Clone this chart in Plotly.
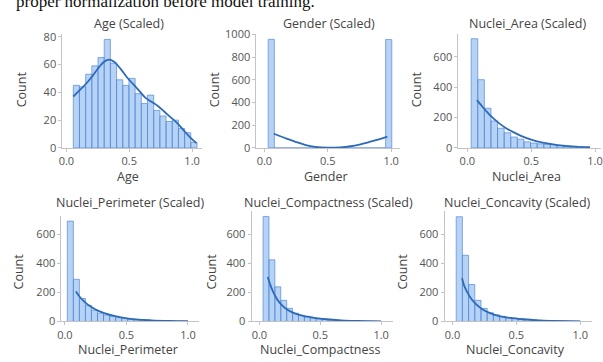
import numpy as np
import plotly.graph_objects as go

W, H = 603, 362

# ---------------- data ----------------
age_counts = [45, 44, 53, 59, 65, 78, 61, 49, 45, 50, 39, 32, 38, 27, 23, 19, 20, 14, 11, 4]
age_bins = (0.055, 1.039)
age_kde_x = [0.055, 0.10, 0.16, 0.21, 0.26, 0.30, 0.34, 0.38, 0.43, 0.48, 0.53, 0.58, 0.63, 0.68,
             0.73, 0.78, 0.83, 0.88, 0.93, 0.98, 1.035]
age_kde_y = [37, 41, 46.5, 52, 58, 62, 63.5, 62, 57, 51, 46, 41, 36, 33, 30, 26, 22, 18, 13, 8, 3.5]

gender_counts = [957] + [0] * 18 + [955]
gender_bins = (0.03, 1.005)
gender_kde_x = [0.075, 0.12, 0.18, 0.25, 0.32, 0.40, 0.50, 0.60, 0.68, 0.75, 0.82, 0.88, 0.93, 0.97]
gender_kde_y = [125, 105, 80, 52, 28, 10, 2, 5, 15, 30, 50, 68, 85, 100]

area_counts = [720, 450, 262, 178, 130, 100, 72, 58, 40, 32, 27, 23, 22, 16, 12, 8, 5, 3]
area_bins = (0.03, 0.96)
area_kde_x = [0.075, 0.12, 0.16, 0.20, 0.25, 0.30, 0.36, 0.42, 0.50, 0.58, 0.66, 0.75, 0.85, 0.96]
area_kde_y = [315, 270, 232, 198, 162, 132, 104, 80, 55, 37, 25, 15, 9, 5]

perim_counts = [690, 290, 158, 110, 78, 57, 45, 35, 26, 20, 15, 11, 9, 7, 5, 4, 3, 2, 2, 1]
perim_bins = (0.02, 1.0)
perim_kde_x = [0.09, 0.12, 0.16, 0.20, 0.25, 0.32, 0.40, 0.48, 0.58, 0.70, 0.85, 1.0]
perim_kde_y = [206, 170, 135, 108, 82, 57, 38, 25, 14, 8, 4, 2]

compact_counts = [722, 424, 238, 145, 90, 57, 42, 31, 24, 18, 14, 11, 9, 7, 5, 4, 3, 2, 2, 1]
compact_bins = (0.03, 1.0)
compact_kde_x = [0.068, 0.09, 0.11, 0.14, 0.18, 0.23, 0.29, 0.36, 0.45, 0.55, 0.67, 0.80, 1.0]
compact_kde_y = [305, 250, 208, 160, 115, 80, 55, 38, 25, 15, 8, 4, 1]

concav_counts = [720, 455, 254, 145, 90, 60, 45, 35, 27, 22, 18, 14, 11, 9, 7, 6, 5, 4, 3, 2]
concav_bins = (0.029, 1.0)
concav_kde_x = [0.075, 0.09, 0.11, 0.14, 0.18, 0.23, 0.29, 0.36, 0.45, 0.55, 0.67, 0.80, 1.0]
concav_kde_y = [298, 250, 210, 165, 122, 86, 59, 38, 24, 15, 8, 4, 1]

titles = ["Age (Scaled)", "Gender (Scaled)", "Nuclei_Area (Scaled)",
          "Nuclei_Perimeter (Scaled)", "Nuclei_Compactness (Scaled)", "Nuclei_Concavity (Scaled)"]
xlabels = ["Age", "Gender", "Nuclei_Area", "Nuclei_Perimeter", "Nuclei_Compactness", "Nuclei_Concavity"]
caption = "proper normalization before model training."

# ---------------- layout geometry (pixels) ----------------
panels = [
    # counts, bins, kde x, kde y, x-px domain, y-px domain (top,bottom), xrange, ymax, dtick
    (age_counts, age_bins, age_kde_x, age_kde_y, (59, 200), (27, 146), (-0.0315, 1.079), 82, 20),
    (gender_counts, gender_bins, gender_kde_x, gender_kde_y, (255, 400), (27, 146), (-0.0625, 1.070), 1005, 200),
    (area_counts, area_bins, area_kde_x, area_kde_y, (459, 603), (27, 146), (-0.0698, 1.0465), 752, 200),
    (perim_counts, perim_bins, perim_kde_x, perim_kde_y, (58, 197), (217, 327), (-0.028, 1.09), 725, 200),
    (compact_counts, compact_bins, compact_kde_x, compact_kde_y, (250, 393), (212, 327), (-0.065, 1.098), 758, 200),
    (concav_counts, concav_bins, concav_kde_x, concav_kde_y, (445, 594), (212, 327), (-0.062, 1.093), 758, 200),
]
title_pos = [(126, 16), (328, 16), (529, 16), (127, 203), (328, 203), (519, 203)]
xlabel_pos = [(125, 176), (325, 176), (528, 176), (125, 356), (320, 356), (517, 356)]
count_pos = [(18, 85), (213, 85), (417, 85), (15, 275), (210, 275), (403, 275)]

BAR_FILL = "rgba(110,165,235,0.5)"
BAR_EDGE = "rgba(80,135,215,0.85)"
KDE_COLOR = "#2d6ab8"
AXIS_COLOR = "#c4c4c4"
TICK_FONT = dict(family="Open Sans", size=11, color="#555555")
LABEL_FONT = dict(family="Open Sans", size=12.5, color="#444444")
TITLE_FONT = dict(family="Open Sans", size=12.5, color="#444444")

fig = go.Figure()
annotations = []

for i, (counts, (lo, hi), kx, ky, (px0, px1), (py0, py1), xr, ymax, dt) in enumerate(panels):
    n = len(counts)
    edges = np.linspace(lo, hi, n + 1)
    centers = (edges[:-1] + edges[1:]) / 2
    width = edges[1] - edges[0]
    xa = "x" if i == 0 else f"x{i+1}"
    ya = "y" if i == 0 else f"y{i+1}"
    fig.add_trace(go.Bar(x=centers, y=counts, width=width, xaxis=xa, yaxis=ya,
                         marker=dict(color=BAR_FILL, line=dict(color=BAR_EDGE, width=0.8)),
                         showlegend=False, hoverinfo="skip"))
    fig.add_trace(go.Scatter(x=kx, y=ky, mode="lines", xaxis=xa, yaxis=ya,
                             line=dict(color=KDE_COLOR, width=1.8, shape="spline"),
                             showlegend=False, hoverinfo="skip"))
    xkey = "xaxis" if i == 0 else f"xaxis{i+1}"
    ykey = "yaxis" if i == 0 else f"yaxis{i+1}"
    fig.layout[xkey] = dict(domain=[px0 / W, min(px1 / W, 1.0)], range=list(xr), anchor=ya,
                            tickvals=[0.0, 0.5, 1.0], ticktext=["0.0", "0.5", "1.0"],
                            showline=True, linecolor=AXIS_COLOR, linewidth=1,
                            ticks="outside", ticklen=3, tickcolor=AXIS_COLOR,
                            ticklabeloverflow="allow",
                            showgrid=False, zeroline=False, tickfont=TICK_FONT)
    fig.layout[ykey] = dict(domain=[1 - py1 / H, 1 - py0 / H], range=[0, ymax], anchor=xa,
                            dtick=dt, tick0=0,
                            showline=True, linecolor=AXIS_COLOR, linewidth=1,
                            ticks="outside", ticklen=3, tickcolor=AXIS_COLOR,
                            showgrid=False, zeroline=False, tickfont=TICK_FONT)
    tx, ty = title_pos[i]
    annotations.append(dict(text=titles[i], x=tx / W, y=1 - ty / H, xref="paper", yref="paper",
                            showarrow=False, xanchor="center", yanchor="middle", font=TITLE_FONT))
    lx, ly = xlabel_pos[i]
    annotations.append(dict(text=xlabels[i], x=lx / W, y=1 - ly / H, xref="paper", yref="paper",
                            showarrow=False, xanchor="center", yanchor="middle", font=LABEL_FONT))
    cx, cy = count_pos[i]
    annotations.append(dict(text="Count", x=cx / W, y=1 - cy / H, xref="paper", yref="paper",
                            showarrow=False, xanchor="center", yanchor="middle", textangle=-90,
                            font=LABEL_FONT))

annotations.append(dict(text=caption, x=10 / W, y=1, xref="paper", yref="paper",
                        showarrow=False, xanchor="left", yanchor="bottom", yshift=-5,
                        font=dict(family="Liberation Serif", size=17, color="#111111")))

fig.update_layout(width=W, height=H, margin=dict(l=0, r=0, t=0, b=0),
                  paper_bgcolor="white", plot_bgcolor="white",
                  barmode="overlay", annotations=annotations)

fig.write_html("out.html", config={"displayModeBar": False},
               post_script="document.body.style.margin='0';document.body.style.overflow='hidden';")
